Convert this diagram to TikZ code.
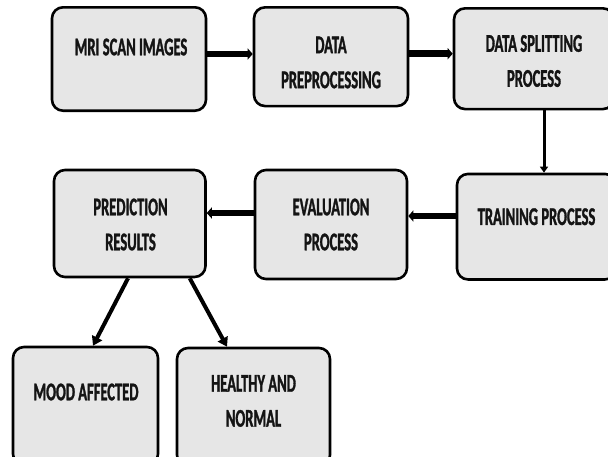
\documentclass[tikz,border=0pt]{standalone}
\usepackage{fontspec}
\newfontfamily\boxfont{Carlito}[FakeStretch=0.57,FakeBold=1.2]
\usetikzlibrary{arrows.meta}
\definecolor{boxgray}{HTML}{E6E6E6}
\tikzset{
  box/.style={draw=black, line width=2.6pt, fill=boxgray, rounded corners=11pt, inner sep=0pt},
  lbl/.style={font=\boxfont\bfseries\fontsize{25.5}{35}\selectfont, align=center, inner sep=0pt, text=black!92},
  harrow/.style={line width=6.5pt, -{Triangle[length=5pt,width=11pt]}},
  varrow/.style={line width=3pt, -{Triangle[length=6pt,width=8pt]}},
  darrow/.style={line width=4pt, -{Triangle[length=9pt,width=11pt]}}
}
\begin{document}
\begin{tikzpicture}[x=1pt,y=-1pt]
\useasboundingbox (0,0) rectangle (608,456);
\clip (0,0) rectangle (608,456);
% boxes
\node[box, minimum width=154pt, minimum height=103.4pt] (mri) at (129,59) {};
\node[box, minimum width=154pt, minimum height=98.7pt] (data) at (331,56.7) {};
\node[box, minimum width=160pt, minimum height=100.7pt] (split) at (534,58.7) {};
\node[box, minimum width=159pt, minimum height=105.5pt] (train) at (536.5,226.7) {};
\node[box, minimum width=152pt, minimum height=109pt] (eval) at (331,224.5) {};
\node[box, minimum width=151.5pt, minimum height=107pt] (pred) at (129.75,223.5) {};
\node[box, minimum width=145pt, minimum height=118pt] (mood) at (85.5,406) {};
\node[box, minimum width=153pt, minimum height=118pt] (healthy) at (253.5,407) {};
% labels
\node[lbl] (tmri) at (131,47) {MRI SCAN IMAGES};
\node[lbl] (tdata) at (331,62.5) {DATA\\PREPROCESSING};
\node[lbl] (tsplit) at (534,61) {DATA SPLITTING\\PROCESS};
\node[lbl] (ttrain) at (536.5,216.7) {TRAINING PROCESS};
\node[lbl] (teval) at (331,224.5) {EVALUATION\\PROCESS};
\node[lbl] (tpred) at (130.5,224.5) {PREDICTION\\RESULTS};
\node[lbl] (tmood) at (86,392) {MOOD AFFECTED};
\node[lbl] (thealthy) at (253.5,401) {HEALTHY AND\\NORMAL};
% connectors
\draw[harrow] ([yshift=5pt]mri.east) -- ([yshift=5pt]mri.east -| data.west);
\draw[harrow] ([yshift=3pt]data.east) -- ([yshift=3pt]data.east -| split.west);
\draw[varrow] ([xshift=10pt]split.south) -- ([xshift=10pt]split.south |- train.north);
\draw[harrow] ([yshift=10.7pt]train.west) -- ([yshift=10.7pt]train.west -| eval.east);
\draw[harrow] ([yshift=11.5pt]eval.west) -- ([yshift=11.5pt]eval.west -| pred.east);
\draw[darrow] ([xshift=-1.75pt]pred.south) -- ([xshift=7.5pt]mood.north);
\draw[darrow] ([xshift=60pt]pred.south) -- ([xshift=-26.5pt]healthy.north);
\end{tikzpicture}
\end{document}
